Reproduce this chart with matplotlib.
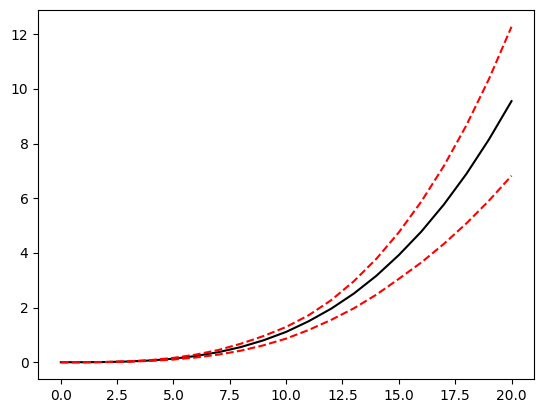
import numpy as np
import matplotlib
matplotlib.use('Agg')
import matplotlib.pyplot as plt

# valores
x = np.arange(0, 21)
media = [0, 0.001, 0.008, 0.027, 0.065, 0.13, 0.229, 0.369, 0.558, 0.804,
         1.11, 1.50, 1.96, 2.51, 3.16, 3.92, 4.78, 5.77, 6.89, 8.15, 9.55]
superior = [0, 0.00125, 0.010, 0.034, 0.081, 0.16, 0.28, 0.45, 0.68, 0.96,
            1.29, 1.72, 2.27, 2.96, 3.78, 4.75, 5.88, 7.18, 8.67, 10.36, 12.27]
inferior = [0, 0.0008, 0.006, 0.021, 0.05, 0.099, 0.174, 0.28, 0.425, 0.62,
            0.865, 1.18, 1.55, 1.97, 2.47, 3.05, 3.65, 4.33, 5.08, 5.91, 6.82]

fig = plt.figure(figsize=(5.43, 4.13), dpi=100)
ax = fig.add_axes([0.0705, 0.0823, 0.913, 0.8935])

ax.plot(x, media, 'k-')
ax.plot(x, superior, 'r--')
ax.plot(x, inferior, 'r--')

fig.savefig('out.png', dpi=100)
